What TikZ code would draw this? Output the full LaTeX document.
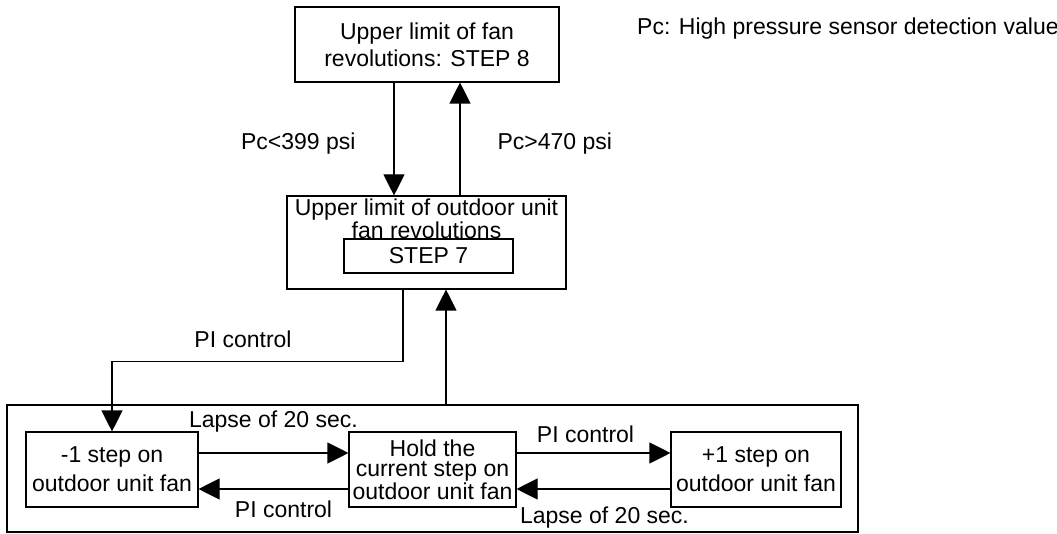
\documentclass[tikz,border=0pt]{standalone}
\usepackage{fontspec}
\setmainfont{Liberation Sans}
\usepackage{tikz}
\usetikzlibrary{arrows.meta,positioning,calc}

\begin{document}
\begin{tikzpicture}[
    x=1pt, y=-1pt,
    box/.style={rectangle, draw, line width=1.1pt, inner sep=2pt, align=center, minimum height=75pt},
    arrow/.style={-{Triangle[length=21pt,width=21pt]}, line width=1.1pt},
    lbl/.style={inner sep=0pt, font=\fontsize{23}{27}\selectfont}
]
\useasboundingbox (0,0) rectangle (1057,534);

% Upper limit STEP 8
\node[box, minimum width=264pt, font=\fontsize{23}{27}\selectfont] (top) at (427,44.5) {Upper limit of fan\\revolutions: STEP 8};

% Upper limit STEP 7
\node[box, minimum width=279pt, minimum height=93pt] (lim) at (426.5,242.5) {};
\node[lbl, anchor=north, align=center, font=\fontsize{23}{18}\selectfont] (limtext) at ([yshift=-3.5pt]lim.north) {Upper limit of outdoor unit\\fan revolutions};
\node[box, minimum width=169pt, minimum height=34pt, font=\fontsize{23}{27}\selectfont] (step) at (428.5,256) {STEP 7};

% Fan control loop
\node[box, minimum width=851pt, minimum height=127pt] (loop) at (432.5,468.5) {};
\node[box, minimum width=172pt, font=\fontsize{23}{29}\selectfont] (minus) at (112,469.5) {-1 step on\\outdoor unit fan};
\node[box, minimum width=167pt, font=\fontsize{23}{20.5}\selectfont] (hold) at (432.5,469.5) {Hold the\\current step on\\outdoor unit fan};
\node[box, minimum width=170pt, font=\fontsize{23}{29}\selectfont] (plus) at (756,469.5) {+1 step on\\outdoor unit fan};

% Note
\node[lbl, anchor=base west] (note) at (637,35) {Pc: High pressure sensor detection value};

% Arrows
\draw[arrow] ([xshift=-33pt]top.south) -- ([xshift=-33pt]top.south |- lim.north) node[lbl, pos=0.54, left=38pt] {Pc<399 psi};
\draw[arrow] ([xshift=33pt]top.south |- lim.north) -- ([xshift=33pt]top.south) node[lbl, pos=0.46, right=37pt] {Pc>470 psi};
\draw[arrow] ([xshift=-23.5pt]lim.south) -- ++(0,72) -| (minus.north) node[lbl, pos=0.25, above=13pt, xshift=-14.5pt] {PI control};
\draw[arrow] ([xshift=19.5pt]lim.south |- loop.north) -- ([xshift=19.5pt]lim.south);
\draw[arrow] ([yshift=16.5pt]minus.east) -- ([yshift=16.5pt]minus.east -| hold.west) node[lbl, midway, above=20pt] {Lapse of 20 sec.};
\draw[arrow] ([yshift=-19.5pt]hold.west) -- ([yshift=-19.5pt]hold.west -| minus.east) node[lbl, midway, below=11.5pt, xshift=10pt] {PI control};
\draw[arrow] ([yshift=16.5pt]hold.east) -- ([yshift=16.5pt]hold.east -| plus.west) node[lbl, midway, above=10pt, xshift=-8pt] {PI control};
\draw[arrow] ([yshift=-19.5pt]plus.west) -- ([yshift=-19.5pt]plus.west -| hold.east) node[lbl, midway, below=17pt, xshift=11pt] {Lapse of 20 sec.};

\end{tikzpicture}
\end{document}
